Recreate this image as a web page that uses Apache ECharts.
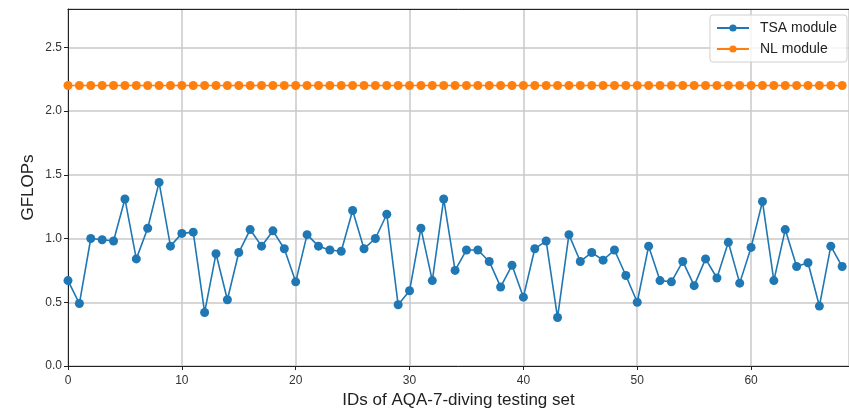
<!DOCTYPE html>
<html>
<head>
<meta charset="utf-8">
<script src="https://cdn.jsdelivr.net/npm/echarts@6/dist/echarts.min.js"></script>
<style>html,body{margin:0;padding:0;background:#fff;}#c{width:849px;height:410px;}</style>
</head>
<body>
<div id="c"></div>
<script>
const ids = Array.from({length: 69}, (_, i) => i);
const tsaValues = [0.67, 0.49, 1.00, 0.99, 0.98, 1.31, 0.84, 1.08, 1.44, 0.94,
  1.04, 1.05, 0.42, 0.88, 0.52, 0.89, 1.07, 0.94, 1.06, 0.92,
  0.66, 1.03, 0.94, 0.91, 0.90, 1.22, 0.92, 1.00, 1.19, 0.48,
  0.59, 1.08, 0.67, 1.31, 0.75, 0.91, 0.91, 0.82, 0.62, 0.79,
  0.54, 0.92, 0.98, 0.38, 1.03, 0.82, 0.89, 0.83, 0.91, 0.71,
  0.50, 0.94, 0.67, 0.66, 0.82, 0.63, 0.84, 0.69, 0.97, 0.65,
  0.93, 1.29, 0.67, 1.07, 0.78, 0.81, 0.47, 0.94, 0.78];
const nlValues = ids.map(() => 2.2);
const seriesNames = ['TSA module', 'NL module'];
const xTitle = 'IDs of AQA-7-diving testing set';
const yTitle = 'GFLOPs';

const font = 'Liberation Sans, Arial, sans-serif';
const chart = echarts.init(document.getElementById('c'));
chart.setOption({
  animation: false,
  textStyle: {fontFamily: font},
  grid: {left: 68, top: 9, right: 0, bottom: 44, containLabel: false, outerBoundsMode: 'none'},
  legend: {
    right: 2, top: 15, orient: 'vertical',
    padding: [6, 10, 6, 6], itemGap: 7,
    itemWidth: 32, itemHeight: 9,
    borderColor: '#d0d0d0', borderWidth: 1, borderRadius: 3,
    backgroundColor: 'rgba(255,255,255,0.8)',
    textStyle: {fontSize: 14, color: '#222', fontFamily: font, padding: [0, 0, 0, 6]},
    data: seriesNames
  },
  xAxis: [{
    type: 'value', min: 0, max: 68.6, interval: 10,
    name: xTitle, nameLocation: 'middle', nameGap: 26, nameMoveOverlap: false,
    nameTextStyle: {fontSize: 17, color: '#222', fontFamily: font},
    axisLine: {onZero: false, lineStyle: {color: '#222', width: 1}},
    axisTick: {show: true, length: 4, lineStyle: {color: '#222'}},
    axisLabel: {fontSize: 12, color: '#333', margin: 9, showMaxLabel: false},
    splitLine: {show: true, lineStyle: {color: '#c8c8c8', width: 1.5}}
  }, {
    type: 'value', position: 'top', min: 0, max: 68.6,
    axisLine: {show: true, onZero: false, lineStyle: {color: '#222', width: 1}},
    axisTick: {show: false}, axisLabel: {show: false}, splitLine: {show: false}
  }],
  yAxis: {
    type: 'value', min: 0, max: 2.8, interval: 0.5,
    name: yTitle, nameLocation: 'middle', nameGap: 31, nameMoveOverlap: false,
    nameTextStyle: {fontSize: 17, color: '#222', fontFamily: font},
    axisLine: {show: true, onZero: false, lineStyle: {color: '#222', width: 1}},
    axisTick: {show: true, length: 4, lineStyle: {color: '#222'}},
    axisLabel: {fontSize: 12, color: '#333', margin: 6, showMaxLabel: false,
      formatter: v => v.toFixed(1)},
    splitLine: {show: true, lineStyle: {color: '#c8c8c8', width: 1.5}}
  },
  series: [
    {
      name: seriesNames[0], type: 'line',
      data: ids.map((x, i) => [x, tsaValues[i]]),
      symbol: 'circle', symbolSize: 9, showAllSymbol: true,
      itemStyle: {color: '#1f77b4'},
      lineStyle: {color: '#1f77b4', width: 1.6}
    },
    {
      name: seriesNames[1], type: 'line',
      data: ids.map((x, i) => [x, nlValues[i]]),
      symbol: 'circle', symbolSize: 9, showAllSymbol: true,
      itemStyle: {color: '#ff7f0e'},
      lineStyle: {color: '#ff7f0e', width: 1.6}
    }
  ]
});
</script>
</body>
</html>
